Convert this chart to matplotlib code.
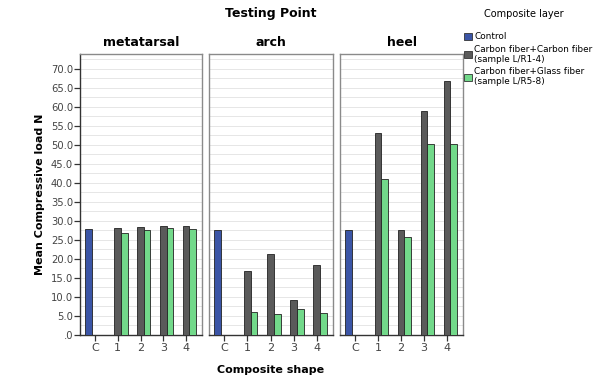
import numpy as np
import matplotlib
matplotlib.use("Agg")
import matplotlib.pyplot as plt
from matplotlib.patches import Patch

testing_points = ["metatarsal", "arch", "heel"]
shapes = ["C", "1", "2", "3", "4"]
layers = ["Control",
          "Carbon fiber+Carbon fiber\n(sample L/R1-4)",
          "Carbon fiber+Glass fiber\n(sample L/R5-8)"]

# mean compressive load (N) per testing point
control = [27.8, 27.5, 27.5]
carbon_carbon = [[28.1, 28.3, 28.6, 28.6],
                 [16.7, 21.4, 9.1, 18.4],
                 [53.2, 27.5, 58.9, 66.8]]
carbon_glass = [[26.9, 27.5, 28.2, 28.0],
                [6.0, 5.4, 6.9, 5.7],
                [41.0, 25.9, 50.2, 50.2]]

colors = ["#3b55a6", "#5a5a5a", "#72d98a"]
frame = "#8a8a8a"
tick_col = "#444444"


def main():
    fig = plt.figure(figsize=(5.95, 3.77), dpi=100)
    lefts = [80, 209, 340]
    rights = [202, 333, 463]
    bottom = 1 - 335 / 377
    height = (335 - 54) / 377
    w = 0.29
    for k, name in enumerate(testing_points):
        ax = fig.add_axes([lefts[k] / 595, bottom,
                           (rights[k] - lefts[k]) / 595, height])
        x = np.arange(len(shapes))
        ax.bar(x[0] - w, control[k], width=w, color=colors[0],
               edgecolor="#222222", linewidth=0.6, zorder=3)
        ax.bar(x[1:], carbon_carbon[k], width=w, color=colors[1],
               edgecolor="#222222", linewidth=0.6, zorder=3)
        ax.bar(x[1:] + w, carbon_glass[k], width=w, color=colors[2],
               edgecolor="#222222", linewidth=0.6, zorder=3)
        ax.set_xlim(-0.66, 4.7)
        ax.set_ylim(0, 73.9)
        for yv in np.arange(2.5, 73.9, 2.5):
            ax.axhline(yv, color="#e2e2e2", linewidth=0.6, zorder=1)
        ax.set_xticks(x)
        ax.set_xticklabels(shapes, fontsize=8, color=tick_col)
        ax.tick_params(axis="x", length=4, width=0.9, color="#333333", pad=2)
        for s in ax.spines.values():
            s.set_color(frame)
            s.set_linewidth(1.0)
        ax.spines["bottom"].set_color("#333333")
        ax.set_title(name, fontsize=9, fontweight="bold", pad=6)
        if k == 0:
            yt = np.arange(0, 71, 5)
            ax.set_yticks(yt)
            ax.set_yticklabels([".0"] + ["%.1f" % v for v in yt[1:]],
                               fontsize=7.2, color=tick_col)
            ax.tick_params(axis="y", length=4, width=0.9, color="#333333", pad=1)
            ax.spines["left"].set_color("#333333")
            ax.set_ylabel("Mean Compressive load N", fontsize=8,
                          fontweight="bold", labelpad=4)
        else:
            ax.set_yticks([])

    fig.text(271 / 595, 1 - 13 / 377, "Testing Point", ha="center",
             va="center", fontsize=9, fontweight="bold")
    fig.text(271 / 595, 1 - 370 / 377, "Composite shape", ha="center",
             va="center", fontsize=8, fontweight="bold")

    handles = [Patch(facecolor=c, edgecolor="#333333", linewidth=0.6)
               for c in colors]
    leg = fig.legend(handles, layers, loc="upper left",
                     bbox_to_anchor=(460 / 595, 1 - 5 / 377),
                     title="Composite layer", fontsize=6.4,
                     title_fontsize=7, frameon=False,
                     handlelength=0.9, handleheight=0.9, handletextpad=0.3,
                     labelspacing=0.35, borderaxespad=0)
    leg._legend_box.align = "left"
    leg._legend_box.sep = 10
    leg.get_title().set_position((20, 0))
    fig.savefig("out.png", dpi=100)


if __name__ == "__main__":
    main()
